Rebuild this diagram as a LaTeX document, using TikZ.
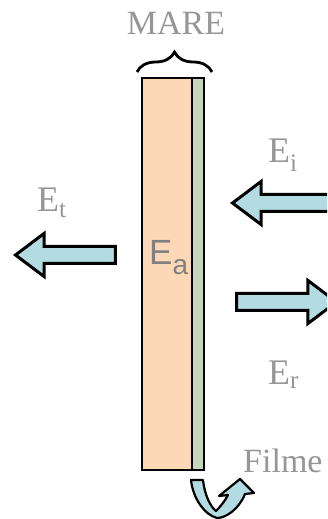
\documentclass[tikz,border=0pt]{standalone}
\usepackage{fontspec}
\setmainfont{Liberation Serif}
\newfontfamily\labelsans{Liberation Sans}
\usetikzlibrary{shapes.arrows,decorations.pathreplacing}
\definecolor{cPeach}{RGB}{253,216,182}
\definecolor{cFilm}{RGB}{198,214,188}
\definecolor{cWave}{RGB}{178,220,226}
\definecolor{cText}{RGB}{150,150,150}
\tikzset{
  lbl/.style={text=cText, inner sep=0pt, font=\fontsize{36}{40}\selectfont},
  wave/.style={single arrow, draw=black, fill=cWave, line width=3pt,
               text height=0pt, text depth=0pt, inner xsep=0pt, inner ysep=7pt,
               single arrow head extend=13pt, single arrow tip angle=74},
  layer/.style={draw=black, line width=2.8pt},
}
\begin{document}
\begin{tikzpicture}[x=1pt,y=1pt]
\clip (0,0) rectangle (327,519);

% slab and film
\draw[layer, fill=cPeach] (142,49) rectangle (192,441);
\draw[layer, fill=cFilm] (192,49) rectangle (204,441);
\node[anchor=base west, inner sep=0pt, text=cText!85!black,
      font=\labelsans\fontsize{35}{40}\selectfont] (Ea) at (149,254)
  {E\raisebox{-10pt}{\fontsize{28}{30}\selectfont a}};

% brace and title
\draw[line width=2.8pt, decorate, decoration={brace, amplitude=20pt, aspect=0.5}]
  (137,447) -- (212,447);
\node[lbl, anchor=base, font=\fontsize{34}{40}\selectfont] (mare) at (176,484) {MARE};

% waves
\node[wave, shape border rotate=180, minimum height=100pt, anchor=tip] (Et) at (13,264) {};
\node[wave, shape border rotate=180, minimum height=115pt, anchor=tip] (Ei) at (230,316) {};
\node[wave, minimum height=100pt, anchor=tail] (Er) at (235,217) {};

\node[lbl, anchor=base west] (lt) at (37,307) {E\textsubscript{t}};
\node[lbl, anchor=base west] (li) at (268,356) {E\textsubscript{i}};
\node[lbl, anchor=base west] (lr) at (268,134) {E\textsubscript{r}};

% film label and curved arrow
\node[lbl, anchor=base west, font=\fontsize{34}{40}\selectfont] (filme) at (243,46) {Filme};
\draw[fill=cWave, line width=2.2pt, line join=round]
  (191,39) -- (203,39) .. controls (205,22) and (211,12) .. (216,8)
  .. controls (220,12) and (225,18) .. (228,24) -- (219,23) -- (240,40)
  -- (254,26) -- (245,25) .. controls (239,10) and (226,1) .. (217,1)
  .. controls (205,4) and (193,20) .. cycle;
\end{tikzpicture}
\end{document}
